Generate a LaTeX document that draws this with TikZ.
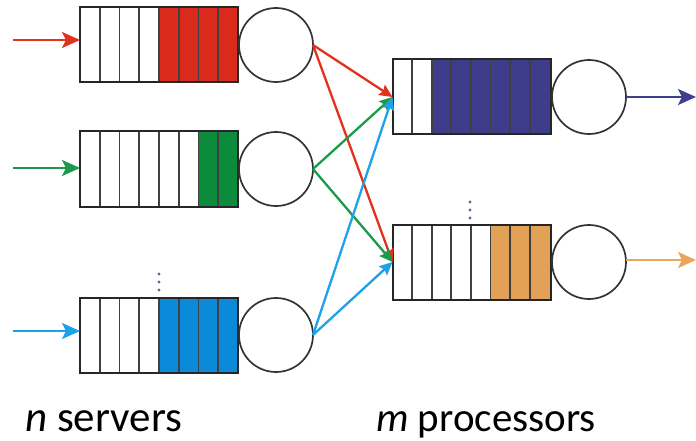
\documentclass[tikz,border=0pt]{standalone}
\usepackage{fontspec}
\setmainfont{Carlito}
\usetikzlibrary{arrows.meta}
\definecolor{fred}{HTML}{DA2A1C}
\definecolor{fgreen}{HTML}{0B8B3C}
\definecolor{fblue}{HTML}{0A8AD8}
\definecolor{fnavy}{HTML}{3E3D8B}
\definecolor{forange}{HTML}{E3A057}
\definecolor{ared}{HTML}{E2311D}
\definecolor{agreen}{HTML}{1A9A4A}
\definecolor{ablue}{HTML}{1DA1E8}
\definecolor{anavy}{HTML}{3F3F8F}
\definecolor{aorange}{HTML}{EBA65B}
\definecolor{dotc}{HTML}{5A6A90}
\newcommand\myqueue[6]{%
  \node[queuebox] (#1) at (#2,#3) {};
  \fill[#5] ([xshift=#4*#6 pt]#1.north west) rectangle (#1.south east);
  \foreach \i in {1,...,7}
    \draw[cell] ([xshift=\i*#6 pt]#1.north west) -- ([xshift=\i*#6 pt]#1.south west);
  \draw[queueline] (#1.north west) rectangle (#1.south east);
}
\begin{document}
\begin{tikzpicture}[x=1pt,y=-1pt,
  queuebox/.style={rectangle, minimum width=158pt, minimum height=75pt, inner sep=0pt, outer sep=0pt},
  queueline/.style={draw=black!85, line width=2pt},
  cell/.style={draw=black!75, line width=1.7pt},
  server/.style={circle, draw=black!80, line width=1.7pt, minimum size=74pt, inner sep=0pt, outer sep=0pt},
  flow/.style={line width=2.3pt, -{Stealth[length=13pt,width=12pt,inset=2pt]}},
  io/.style={line width=2.4pt, -{Stealth[length=18pt,width=16pt,inset=4pt]}},
  vdot/.style={circle, fill=dotc, inner sep=0pt, minimum size=3.4pt},
  label/.style={anchor=base west, inner sep=0pt}
]
\useasboundingbox (0,0) rectangle (696,441);
% server queues
\myqueue{s1}{159}{45}{4}{fred}{19.75}
\myqueue{s2}{159}{169}{6}{fgreen}{19.75}
\myqueue{s3}{159}{335}{4}{fblue}{19.75}
% processor queues
\myqueue{p1}{471.5}{97}{2}{fnavy}{19.6}
\myqueue{p2}{471.5}{262}{5}{forange}{19.6}
% servers
\node[server] (c1) at (276,45) {};
\node[server] (c2) at (276,169) {};
\node[server] (c3) at (276,335) {};
\node[server] (d1) at (589,97) {};
\node[server] (d2) at (589,262) {};
% dots
\node[vdot] (v1) at (159,274) {};
\node[vdot] (v2) at (159,282) {};
\node[vdot] (v3) at (159,290) {};
\node[vdot] (w1) at (470,202) {};
\node[vdot] (w2) at (470,210) {};
\node[vdot] (w3) at (470,218) {};
% input arrows
\coordinate (in1) at (13,40);
\coordinate (in2) at (13,168);
\coordinate (in3) at (13,331);
\draw[io, ared] (in1) -- (in1 -| s1.west);
\draw[io, agreen] (in2) -- (in2 -| s2.west);
\draw[io, ablue] (in3) -- (in3 -| s3.west);
% output arrows
\coordinate (out1) at (696,97);
\coordinate (out2) at (696,260);
\draw[io, anavy] (d1.east |- out1) -- (out1);
\draw[io, aorange] (d2.east |- out2) -- (out2);
% connectors
\draw[flow, ared] (c1.east) -- (p1.west);
\draw[flow, ared] (c1.east) -- (p2.west);
\draw[flow, agreen] (c2.east) -- (p1.west);
\draw[flow, agreen] (c2.east) -- (p2.west);
\draw[flow, ablue] (c3.east) -- (p1.west);
\draw[flow, ablue] (c3.east) -- (p2.west);
% labels
\node[label] (l1) at (25,431) {\fontsize{43}{50}\selectfont\textit{n} servers};
\node[label] (l2) at (376,431) {\fontsize{41}{48}\selectfont\textit{m} processors};
\end{tikzpicture}
\end{document}
